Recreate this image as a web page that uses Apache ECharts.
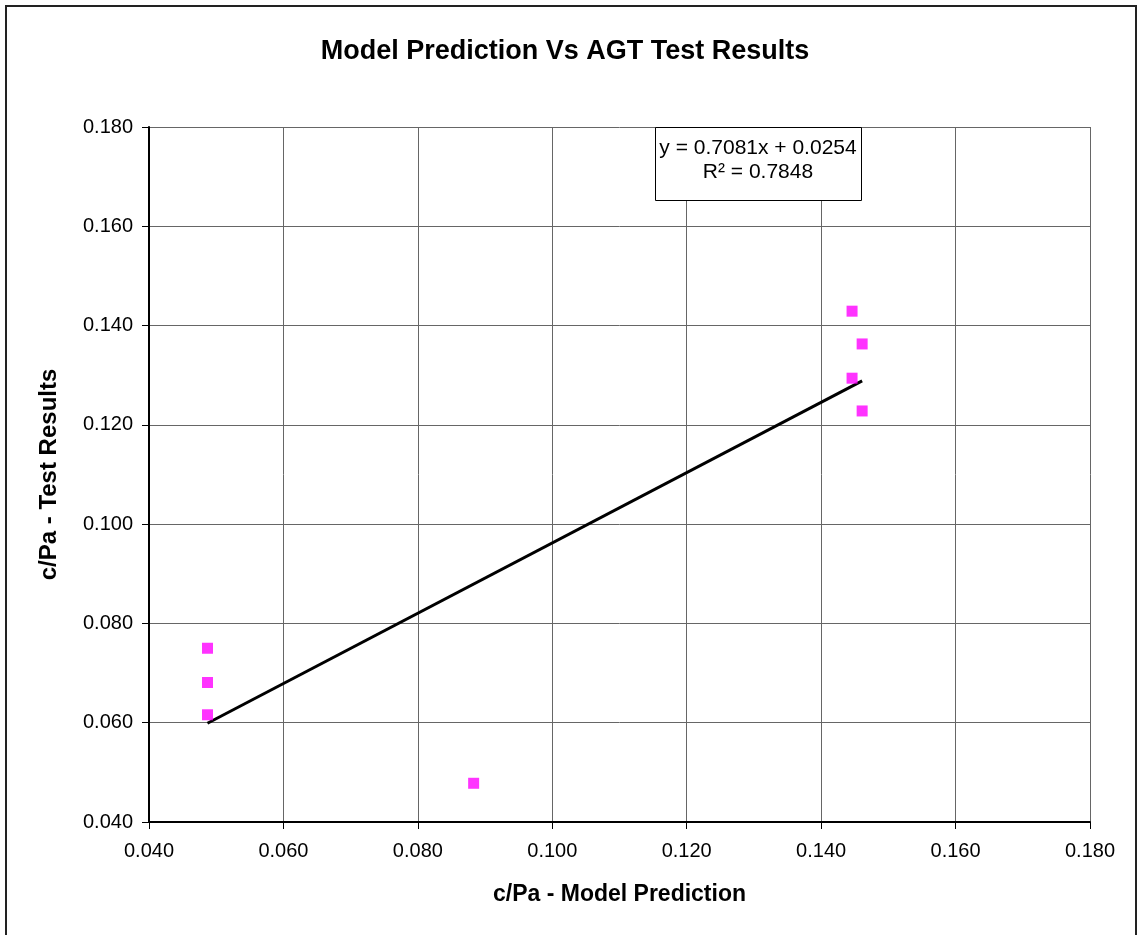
<!DOCTYPE html>
<html>
<head>
<meta charset="utf-8">
<script src="https://cdn.jsdelivr.net/npm/echarts@6/dist/echarts.min.js"></script>
<style>html,body{margin:0;padding:0;background:#fff}#c{width:1138px;height:935px}</style>
</head>
<body>
<div id="c"></div>
<script>
// Data
const modelPrediction = [0.1446, 0.1461, 0.1446, 0.1461, 0.0487, 0.0487, 0.0487, 0.0883];
const testResults     = [0.1429, 0.1363, 0.1294, 0.1228, 0.0750, 0.0681, 0.0616, 0.0478];
const trendSlope = 0.7081;
const trendIntercept = 0.0254;
const equationText = 'y = 0.7081x + 0.0254';
const r2Text = 'R² = 0.7848';
const axisTicks = [0.04, 0.06, 0.08, 0.10, 0.12, 0.14, 0.16, 0.18];

const FONT = 'Liberation Sans, Arial, sans-serif';
const points = modelPrediction.map((x, i) => [x, testResults[i]]);
const xMin = Math.min(...modelPrediction), xMax = Math.max(...modelPrediction);
const trend = [[xMin, trendSlope * xMin + trendIntercept], [xMax, trendSlope * xMax + trendIntercept]];

const chart = echarts.init(document.getElementById('c'), null, {renderer: 'canvas'});
const axisCommon = {
  type: 'value',
  min: axisTicks[0], max: axisTicks[axisTicks.length - 1], interval: 0.02,
  nameLocation: 'middle',
  nameTextStyle: {fontFamily: FONT, fontWeight: 'bold', fontSize: 23, color: '#000'},
  axisLine: {show: true, onZero: false, lineStyle: {color: '#000', width: 2}},
  axisTick: {show: true, inside: false, length: 7, lineStyle: {color: '#000', width: 1}},
  splitLine: {show: true, lineStyle: {color: '#666', width: 1}},
  axisLabel: {fontFamily: FONT, fontSize: 20, color: '#000', formatter: v => v.toFixed(3)}
};
chart.setOption({
  animation: false,
  backgroundColor: '#fff',
  title: {
    text: 'Model Prediction Vs AGT Test Results',
    left: 560, top: 33, textAlign: 'center',
    textStyle: {fontFamily: FONT, fontWeight: 'bold', fontSize: 27, color: '#000'}
  },
  grid: {left: 149, right: 48, top: 127, bottom: 113, containLabel: false},
  xAxis: Object.assign({}, axisCommon, {
    name: 'c/Pa - Model Prediction', nameGap: 61,
    axisLabel: Object.assign({}, axisCommon.axisLabel, {margin: 19})
  }),
  yAxis: Object.assign({}, axisCommon, {
    name: 'c/Pa - Test Results', nameGap: 88,
    nameTextStyle: Object.assign({}, axisCommon.nameTextStyle, {fontSize: 24}),
    axisLabel: Object.assign({}, axisCommon.axisLabel, {margin: 16})
  }),
  series: [
    {
      type: 'line', data: trend, showSymbol: false, symbol: 'none',
      lineStyle: {color: '#000', width: 3}, z: 2, silent: true
    },
    {
      type: 'scatter', data: points, symbol: 'rect', symbolSize: 11,
      itemStyle: {color: '#FF00FF'}, z: 3
    }
  ],
  graphic: [
    {type: 'rect', shape: {x: 6, y: 6, width: 1130, height: 935}, style: {fill: 'none', stroke: '#222', lineWidth: 2}, z: 100},
    {type: 'rect', shape: {x: 655.5, y: 127.5, width: 206, height: 73}, style: {fill: '#fff', stroke: '#000', lineWidth: 1}, z: 100},
    {type: 'text', x: 758, y: 148, style: {text: equationText, fontFamily: FONT, fontSize: 21, fill: '#000', align: 'center', verticalAlign: 'middle'}, z: 101},
    {type: 'text', x: 758, y: 172, style: {text: r2Text, fontFamily: FONT, fontSize: 21, fill: '#000', align: 'center', verticalAlign: 'middle'}, z: 101}
  ]
});
</script>
</body>
</html>
